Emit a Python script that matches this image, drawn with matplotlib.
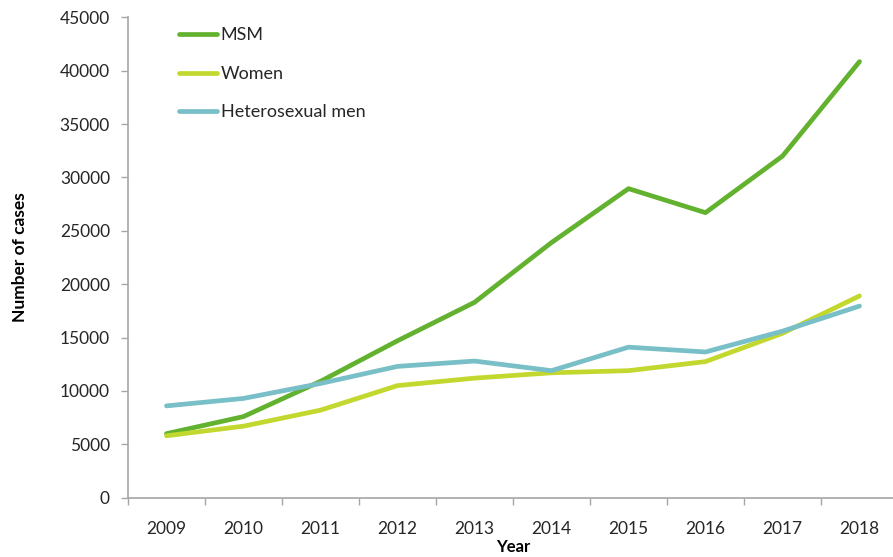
import matplotlib
matplotlib.use("Agg")
import matplotlib.pyplot as plt
import numpy as np

years = ["2009", "2010", "2011", "2012", "2013", "2014", "2015", "2016", "2017", "2018"]
msm = [6000, 7600, 10900, 14700, 18300, 23900, 28950, 26700, 32000, 40850]
women = [5800, 6700, 8200, 10500, 11200, 11700, 11900, 12750, 15400, 18900]
hetero = [8600, 9300, 10700, 12300, 12800, 11900, 14100, 13650, 15600, 17950]

plt.rcParams['font.family'] = ['Lato', 'DejaVu Sans']

fig = plt.figure(figsize=(8.93, 5.57), dpi=100)
ax = fig.add_axes([128/893, 1-497.7/557, 770/893, 480.4/557])

x = np.arange(len(years))
lw = 3.4
ax.plot(x, msm, color='#62b22f', lw=lw, label='MSM', solid_capstyle='round')
ax.plot(x, women, color='#c3d82e', lw=lw, label='Women', solid_capstyle='round')
ax.plot(x, hetero, color='#78bfc7', lw=lw, label='Heterosexual men', solid_capstyle='round')

ax.set_xlim(-0.5, len(years) - 0.5)
ax.set_ylim(0, 45000)
ax.set_yticks(np.arange(0, 45001, 5000))

# category ticks between years, labels at centres
ax.set_xticks(np.arange(-0.5, len(years), 1))
ax.set_xticklabels([])
ax.set_xticks(x, minor=True)
ax.set_xticklabels(years, minor=True)
ax.tick_params(axis='x', which='minor', length=0, pad=17, labelsize=12.5, labelcolor='#262626')
ax.tick_params(axis='x', which='major', length=5, width=1, color='#a6a6a6', direction='out')
ax.tick_params(axis='y', length=5, width=1, color='#a6a6a6', direction='out', pad=8,
               labelsize=12.5, labelcolor='#262626')

for s in ['top', 'right']:
    ax.spines[s].set_visible(False)
for s in ['left', 'bottom']:
    ax.spines[s].set_color('#a6a6a6')
    ax.spines[s].set_linewidth(1.2)

ax.set_xlabel('Year', fontweight='bold', fontsize=12, color='#000000')
ax.xaxis.set_label_coords(0.5, -0.086)
ax.set_ylabel('Number of cases', fontweight='bold', fontsize=12.5, color='#000000')
ax.yaxis.set_label_coords(-0.13, 0.5)

leg = ax.legend(loc='upper left', bbox_to_anchor=(0.045, 1.013), frameon=False,
                fontsize=13, handlelength=2.1, handletextpad=0.22, labelspacing=1.25)
for t in leg.get_texts():
    t.set_color('#262626')

fig.savefig("out.png", dpi=100)
